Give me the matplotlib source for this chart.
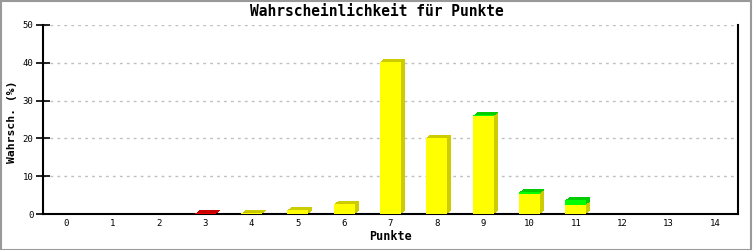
import matplotlib
matplotlib.use('Agg')
import matplotlib.pyplot as plt
import matplotlib.transforms as mtransforms
from matplotlib.patches import Rectangle
import numpy as np

# data
punkte = list(range(15))
gelb = [0, 0, 0, 0, 0.15, 1.0, 2.7, 40.3, 20.2, 25.9, 5.4, 2.4, 0, 0, 0]
gruen = [0, 0, 0, 0, 0, 0, 0, 0, 0, 0.2, 0.4, 1.3, 0, 0, 0]
rot = [0, 0, 0, 0.15, 0, 0, 0, 0, 0, 0, 0, 0, 0, 0, 0]
yticks = [0, 10, 20, 30, 40, 50]

mono = 'DejaVu Sans Mono'

fig = plt.figure(figsize=(7.53, 2.5), dpi=100)
fig.patch.set_facecolor('white')
ax = fig.add_axes([43/753, 1-214/250, 695/753, 189/250])

x = np.array(punkte)
g = np.array(gelb)
gr = np.array(gruen)
r = np.array(rot)
w = 0.45

segments = [(g, 0 * g, '#ffff00', '#cccc00'),
            (gr, g, '#00ff00', '#00cc00'),
            (r, g + gr, '#ee0000', '#cc0000')]

# fake 3D: copies of the bars shifted step by step up and to the right
for k in [4, 3, 2, 1]:
    back = mtransforms.offset_copy(ax.transData, fig=fig, x=k, y=0.75 * k, units='dots')
    for vals, bot, front_c, back_c in segments:
        m = vals > 0
        ax.bar(x[m], vals[m], w, bottom=bot[m], color=back_c, transform=back,
               linewidth=0, zorder=2)
for vals, bot, front_c, back_c in segments:
    m = vals > 0
    ax.bar(x[m], vals[m], w, bottom=bot[m], color=front_c, linewidth=0, zorder=3)

ax.set_xlim(-0.5, 14.5)
ax.set_ylim(0, 50)
ax.set_yticks(yticks)
ax.set_xticks(punkte)
ax.grid(axis='y', color='#c0c0c0', linestyle=(0, (2, 3)), linewidth=1)
ax.set_axisbelow(True)

for s in ['left', 'bottom', 'right']:
    ax.spines[s].set_linewidth(1.5)
    ax.spines[s].set_color('black')
ax.spines['top'].set_visible(False)
ax.tick_params(axis='y', direction='inout', length=10, width=1.2, labelsize=6.5, pad=2)
ax.tick_params(axis='x', length=0, labelsize=6.5, pad=3.5)
for lab in ax.get_xticklabels() + ax.get_yticklabels():
    lab.set_fontfamily(mono)

ax.set_ylabel('Wahrsch. (%)', fontfamily=mono, fontweight='bold', fontsize=8.2)
ax.yaxis.set_label_coords(-26/695, 0.49)
ax.set_xlabel('Punkte', fontfamily=mono, fontweight='bold', fontsize=8.5, labelpad=1.5)
fig.text(0.5, 1-12/250, 'Wahrscheinlichkeit für Punkte', ha='center', va='center',
         fontfamily=mono, fontweight='bold', fontsize=10.5)

# grey frame round the picture
fig.patches.append(Rectangle((0.001, 0.002), 0.997, 0.995, transform=fig.transFigure,
                             fill=False, edgecolor='#999999', linewidth=1.5))

fig.savefig('out.png', dpi=100)
